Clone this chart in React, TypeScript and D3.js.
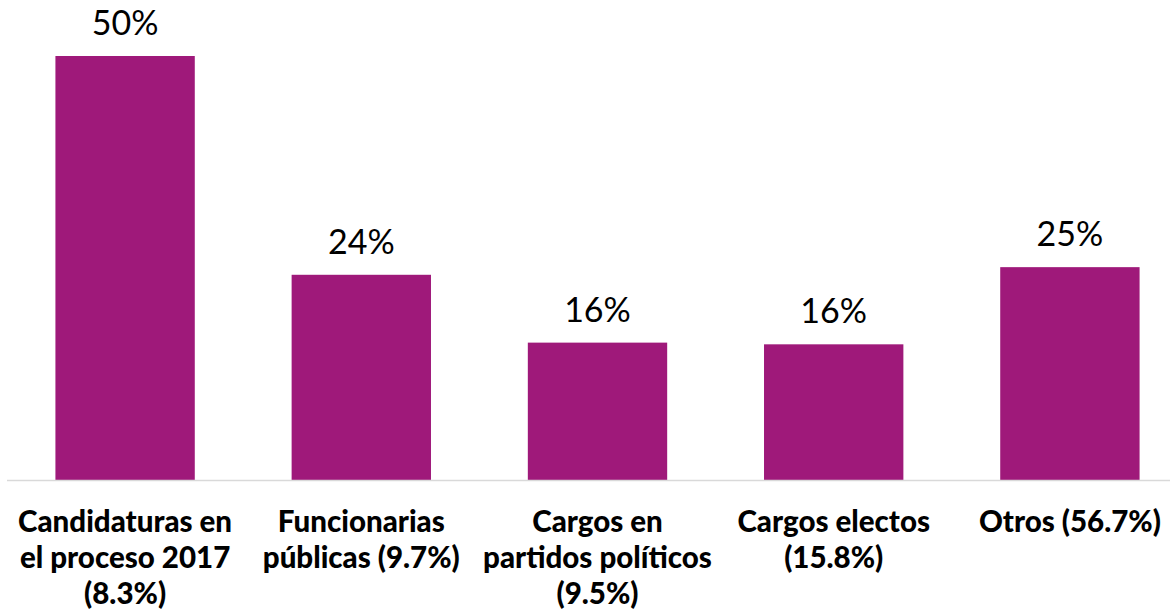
import * as d3 from "d3";
import React, { useEffect, useRef } from "react";

const categories = [
  ["Candidaturas en", "el proceso 2017", "(8.3%)"],
  ["Funcionarias", "públicas (9.7%)"],
  ["Cargos en", "partidos políticos", "(9.5%)"],
  ["Cargos electos", "(15.8%)"],
  ["Otros (56.7%)"],
];
const values = [50, 24.2, 16.2, 16.0, 25.1];
const valueLabels = ["50%", "24%", "16%", "16%", "25%"];

const W = 1170;
const H = 615;
const FONT = "Lato, 'Open Sans', sans-serif";

const App = () => {
  const ref = useRef<SVGSVGElement>(null);

  useEffect(() => {
    const svg = d3.select(ref.current);
    svg.selectAll("*").remove();

    const baseY = 480;
    const keys = categories.map((c, i) => String(i));

    const x = d3.scaleBand().domain(keys).range([7, 1188]).paddingInner(0.41).paddingOuter(0.205);
    const y = d3.scaleLinear().domain([0, 50]).range([baseY, 56]);

    svg.append("g")
      .selectAll("rect")
      .data(values)
      .enter()
      .append("rect")
      .attr("x", (d, i) => x(String(i))!)
      .attr("y", d => y(d))
      .attr("width", x.bandwidth())
      .attr("height", d => baseY - y(d))
      .attr("fill", "#9F197A");

    svg.append("line")
      .attr("x1", 7)
      .attr("x2", W)
      .attr("y1", baseY + 0.5)
      .attr("y2", baseY + 0.5)
      .attr("stroke", "#d9d9d9")
      .attr("stroke-width", 1.5);

    svg.append("g")
      .selectAll("text")
      .data(values)
      .enter()
      .append("text")
      .attr("x", (d, i) => x(String(i))! + x.bandwidth() / 2)
      .attr("y", d => y(d) - 21)
      .attr("text-anchor", "middle")
      .attr("font-family", FONT)
      .attr("font-size", 34)
      .attr("fill", "#000")
      .text((d, i) => valueLabels[i]);

    const labels = svg.append("g")
      .selectAll("text")
      .data(categories)
      .enter()
      .append("text")
      .attr("text-anchor", "middle")
      .attr("font-family", FONT)
      .attr("font-weight", 900)
      .attr("font-size", 29.5)
      .attr("fill", "#000");

    labels.each(function (lines, i) {
      const cx = x(String(i))! + x.bandwidth() / 2;
      d3.select(this)
        .selectAll("tspan")
        .data(lines)
        .enter()
        .append("tspan")
        .attr("x", cx)
        .attr("y", (d, j) => 532 + j * 36)
        .text(d => d);
    });
  }, []);

  return <svg ref={ref} width={W} height={H} style={{ position: "absolute", left: 0, top: 0 }} />;
};

export default App;
